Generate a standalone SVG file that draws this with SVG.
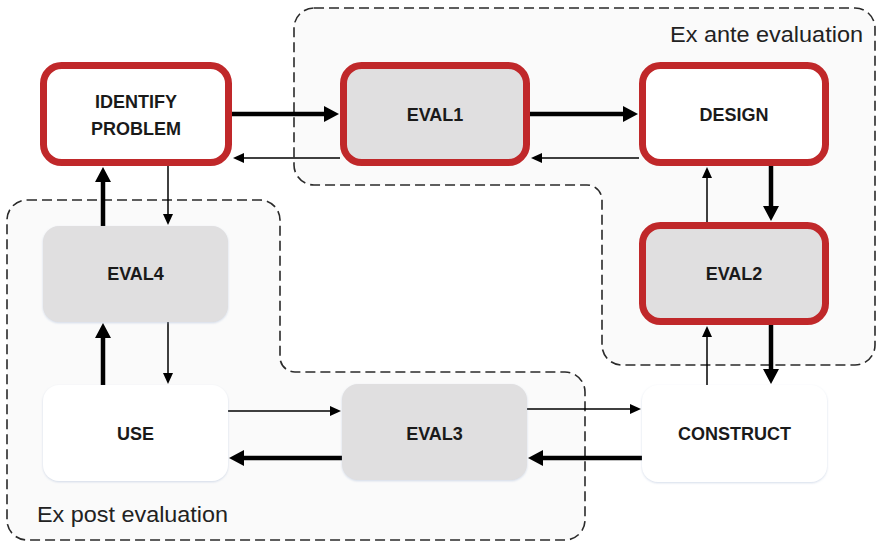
<svg xmlns="http://www.w3.org/2000/svg" width="878" height="545" viewBox="0 0 878 545">
<style>
.region{fill:#fafafa;stroke:#2a2a2a;stroke-width:1.6;stroke-dasharray:10 5}
.rlabel{font-family:"Liberation Sans",Arial,sans-serif;font-size:22px;fill:#222}
.red{stroke:#c0282a;stroke-width:7}
.plain{stroke:none;filter:url(#sh)}
.w{fill:#ffffff}
.g{fill:#e0dfe0}
.lbl{font-family:"Liberation Sans",Arial,sans-serif;font-weight:bold;font-size:18px;fill:#1a1a1a;text-anchor:middle}
.thick{stroke:#000;stroke-width:4.5;fill:none;marker-end:url(#ah)}
.thin{stroke:#000;stroke-width:1.5;fill:none;marker-end:url(#as)}
</style>
<defs>
<filter id="sh" x="-10%" y="-10%" width="120%" height="125%">
<feDropShadow dx="0" dy="1" stdDeviation="1.3" flood-color="#9fb2d0" flood-opacity="0.45"/>
</filter>
<marker id="ah" viewBox="0 0 15 16" refX="1" refY="8" markerWidth="15" markerHeight="16" markerUnits="userSpaceOnUse" orient="auto">
<path d="M0,0 L15,8 L0,16 Z" fill="#000"/>
</marker>
<marker id="as" viewBox="0 0 11 10" refX="1" refY="5" markerWidth="11" markerHeight="10" markerUnits="userSpaceOnUse" orient="auto">
<path d="M0,0 L11,5 L0,10 Z" fill="#000"/>
</marker>
</defs>
<rect width="878" height="545" fill="#ffffff"/>
<g id="ex-ante">
<path class="region" d="M314,8 H855 A20 20 0 0 1 875,28 V345 A20 20 0 0 1 855,365 H622 A20 20 0 0 1 602,345 V200 A15 15 0 0 0 587,185 H314 A20 20 0 0 1 294,165 V28 A20 20 0 0 1 314,8 Z"/>
<text class="rlabel" x="863" y="42" text-anchor="end" textLength="193" lengthAdjust="spacingAndGlyphs">Ex ante evaluation</text>
</g>
<g id="ex-post">
<path class="region" d="M27,200 H260 A20 20 0 0 1 280,220 V357 A15 15 0 0 0 295,372 H565 A20 20 0 0 1 585,392 V520 A20 20 0 0 1 565,540 H27 A20 20 0 0 1 7,520 V220 A20 20 0 0 1 27,200 Z"/>
<text class="rlabel" x="37" y="522" textLength="191" lengthAdjust="spacingAndGlyphs">Ex post evaluation</text>
</g>
<g id="connectors">
<path class="thick" d="M232,114 H325"/>
<path class="thick" d="M530,114 H624"/>
<path class="thin" d="M639,158 H541"/>
<path class="thin" d="M340,158 H243"/>
<path class="thin" d="M168,166 V215"/>
<path class="thick" d="M103,226 V181"/>
<path class="thick" d="M103,385 V337"/>
<path class="thin" d="M168,322 V374"/>
<path class="thin" d="M228,411 H331"/>
<path class="thick" d="M342,458 H243"/>
<path class="thin" d="M527,409 H631"/>
<path class="thick" d="M642,458 H542"/>
<path class="thick" d="M771,166 V207"/>
<path class="thin" d="M707,222 V177"/>
<path class="thick" d="M771,325 V370"/>
<path class="thin" d="M707,385 V336"/>
</g>
<g id="identify-problem">
<rect class="w red" x="43.5" y="65.5" width="185" height="97" rx="18"/>
<text class="lbl" x="136" y="108">IDENTIFY</text>
<text class="lbl" x="136" y="135">PROBLEM</text>
</g>
<g id="eval1">
<rect class="g red" x="343.5" y="65.5" width="183" height="97" rx="18"/>
<text class="lbl" x="435" y="121">EVAL1</text>
</g>
<g id="design">
<rect class="w red" x="642.5" y="65.5" width="183" height="97" rx="18"/>
<text class="lbl" x="734" y="121">DESIGN</text>
</g>
<g id="eval2">
<rect class="g red" x="642.5" y="225.5" width="183" height="96" rx="18"/>
<text class="lbl" x="734" y="280">EVAL2</text>
</g>
<g id="eval4">
<rect class="g plain" x="43" y="226" width="185" height="96" rx="16"/>
<text class="lbl" x="135.5" y="280">EVAL4</text>
</g>
<g id="use">
<rect class="w plain" x="43" y="385" width="185" height="96" rx="16"/>
<text class="lbl" x="135.5" y="440">USE</text>
</g>
<g id="eval3">
<rect class="g plain" x="342" y="384" width="185" height="96" rx="16"/>
<text class="lbl" x="434.5" y="440">EVAL3</text>
</g>
<g id="construct">
<rect class="w plain" x="642" y="385" width="185" height="97" rx="16"/>
<text class="lbl" x="734.5" y="440">CONSTRUCT</text>
</g>
</svg>
